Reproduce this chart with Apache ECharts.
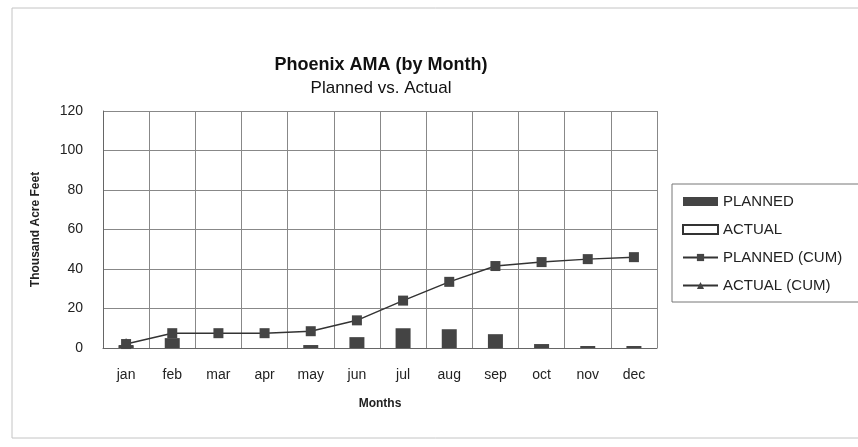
<!DOCTYPE html>
<html>
<head>
<meta charset="utf-8">
<script src="https://cdn.jsdelivr.net/npm/echarts@6/dist/echarts.min.js"></script>
<style>
  html, body { margin: 0; padding: 0; background: #fff; }
  #main { width: 858px; height: 447px; }
</style>
</head>
<body>
<div id="main"></div>
<script>
var months = ["jan", "feb", "mar", "apr", "may", "jun", "jul", "aug", "sep", "oct", "nov", "dec"];
// monthly values, thousand acre feet
var planned = [1.5, 5, 0, 0, 1.5, 5.5, 10, 9.5, 7, 2, 1, 1];
var actual = [1, null, null, null, null, null, null, null, null, null, null, null];
// cumulative values
var plannedCum = [2, 7.5, 7.5, 7.5, 8.5, 14, 24, 33.5, 41.5, 43.5, 45, 46];
var actualCum = [2.5, null, null, null, null, null, null, null, null, null, null, null];
var yTicks = [0, 20, 40, 60, 80, 100, 120];

var font = "Liberation Sans, Arial, sans-serif";
var chart = echarts.init(document.getElementById("main"));

chart.setOption({
  animation: false,
  backgroundColor: "#fff",
  textStyle: {fontFamily: font},
  title: [{
    text: "Phoenix AMA (by Month)",
    left: 376, top: 51, textAlign: "center",
    textStyle: {fontFamily: font, fontSize: 18, fontWeight: "bold", color: "#111"}
  }, {
    text: "Planned vs. Actual",
    left: 376, top: 75, textAlign: "center",
    textStyle: {fontFamily: font, fontSize: 17, fontWeight: "normal", color: "#111"}
  }],
  graphic: [{
    type: "rect",
    shape: {x: 12, y: 8, width: 850, height: 430},
    style: {fill: "none", stroke: "#c4c4c4", lineWidth: 1}
  }],
  legend: {
    orient: "vertical",
    left: 672, top: 184,
    padding: [10, 24, 9, 10],
    itemGap: 13,
    itemWidth: 35, itemHeight: 9,
    borderColor: "#777", borderWidth: 1,
    textStyle: {fontFamily: font, fontSize: 15, color: "#222"},
    data: [
      {name: "PLANNED", icon: "rect"},
      {name: "ACTUAL", icon: "rect"},
      {name: "PLANNED (CUM)"},
      {name: "ACTUAL (CUM)"}
    ]
  },
  grid: {left: 103, right: 201, top: 111, bottom: 99},
  xAxis: {
    type: "category",
    data: months,
    name: "Months",
    nameLocation: "middle",
    nameGap: 50,
    nameTextStyle: {fontFamily: font, fontSize: 12, fontWeight: "bold", color: "#222"},
    axisLine: {show: true, lineStyle: {color: "#666"}},
    axisTick: {show: false},
    axisLabel: {fontFamily: font, fontSize: 14, color: "#222", margin: 20},
    splitLine: {show: true, lineStyle: {color: "#888", width: 1}}
  },
  yAxis: {
    type: "value",
    min: 0, max: 120, interval: 20,
    name: "Thousand Acre Feet",
    nameLocation: "middle",
    nameRotate: 90,
    nameGap: 61,
    nameTextStyle: {fontFamily: font, fontSize: 12, fontWeight: "bold", color: "#222"},
    axisLine: {show: true, lineStyle: {color: "#666"}},
    axisTick: {show: false},
    axisLabel: {
      fontFamily: font, fontSize: 14, color: "#222", margin: 20,
      formatter: function (v) { return yTicks.indexOf(v) >= 0 ? String(v) : ""; }
    },
    splitLine: {show: true, lineStyle: {color: "#888", width: 1}}
  },
  series: [{
    name: "PLANNED",
    type: "bar",
    data: planned,
    barWidth: 15,
    barGap: "-100%",
    z: 3,
    itemStyle: {color: "#444"}
  }, {
    name: "ACTUAL",
    type: "bar",
    data: actual,
    barWidth: 15,
    z: 2,
    itemStyle: {color: "#fff", borderColor: "#333", borderWidth: 1}
  }, {
    name: "PLANNED (CUM)",
    type: "line",
    data: plannedCum,
    symbol: "rect",
    symbolSize: 10,
    z: 4,
    lineStyle: {color: "#333", width: 1.5},
    itemStyle: {color: "#444"}
  }, {
    name: "ACTUAL (CUM)",
    type: "line",
    data: actualCum,
    symbol: "triangle",
    symbolSize: 10,
    z: 5,
    lineStyle: {color: "#333", width: 1.5},
    itemStyle: {color: "#444"}
  }]
});
</script>
</body>
</html>
